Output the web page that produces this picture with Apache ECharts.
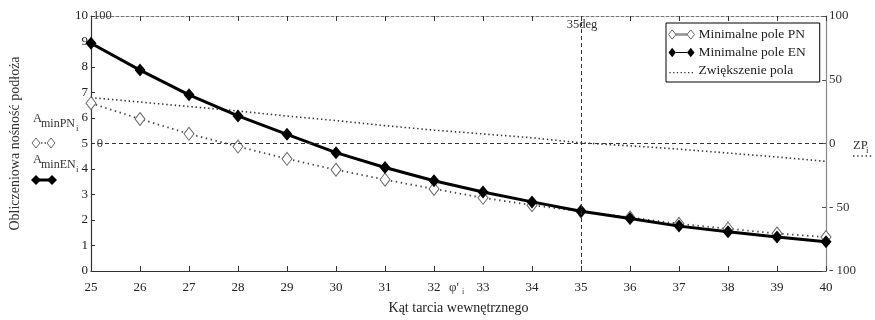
<!DOCTYPE html>
<html>
<head>
<meta charset="utf-8">
<script src="https://cdn.jsdelivr.net/npm/echarts@6/dist/echarts.min.js"></script>
<style>
  html, body { margin: 0; padding: 0; background: #fff; }
  #chart { width: 875px; height: 320px; }
</style>
</head>
<body>
<div id="chart"></div>
<script>
// Angle of internal friction (deg)
const angles = [25, 26, 27, 28, 29, 30, 31, 32, 33, 34, 35, 36, 37, 38, 39, 40];
// Minimum foundation area by PN method
const minPN = [6.58, 5.96, 5.38, 4.88, 4.40, 3.97, 3.58, 3.22, 2.87, 2.58, 2.34, 2.10, 1.85, 1.66, 1.47, 1.33];
// Minimum foundation area by EN method
const minEN = [8.93, 7.88, 6.91, 6.08, 5.36, 4.64, 4.06, 3.54, 3.10, 2.71, 2.34, 2.06, 1.76, 1.54, 1.33, 1.15];
// Increase of area (%)
const zwiekszenie = [36, 32.5, 29, 25.5, 21.5, 18, 14, 10.5, 7.5, 4.5, 0.5, -1.8, -4.4, -7.5, -10.6, -14];

const seriesNames = ['Minimalne pole PN', 'Minimalne pole EN', 'Zwiększenie pola'];

const SERIF = '"Liberation Serif", "DejaVu Serif", serif';
const INK = '#222';

const pairs = vals => angles.map((a, i) => [a, vals[i]]);

const chart = echarts.init(document.getElementById('chart'), null, { renderer: 'canvas' });

// legend icons: two diamonds joined by a line, and a dotted line
const diamondPair = 'path://M0,5 L4,0 L8,5 L4,10 Z M20,5 L24,0 L28,5 L24,10 Z M8,4.4 L20,4.4 L20,5.6 L8,5.6 Z';
let dots = 'path://M0,0 L28,0 L28,0.01 L0,0.01 Z';
for (let x = 1; x < 28; x += 4) dots += ` M${x},4.4 L${x + 1.4},4.4 L${x + 1.4},5.8 L${x},5.8 Z`;

chart.setOption({
  animation: false,
  backgroundColor: '#fff',
  grid: { left: 91, right: 49, top: 16, bottom: 49, outerBoundsMode: 'none', containLabel: false },
  legend: {
    orient: 'vertical',
    left: 666,
    top: 23,
    padding: [4, 14, 4, 2],
    itemGap: 3,
    itemWidth: 26,
    itemHeight: 10,
    borderColor: '#000',
    borderWidth: 1,
    backgroundColor: '#fff',
    textStyle: { fontFamily: SERIF, fontSize: 13.5, color: INK, lineHeight: 15, padding: [0, 0, 0, -1] },
    data: [
      { name: seriesNames[0], icon: diamondPair, itemStyle: { color: '#fff', borderColor: '#666', borderWidth: 1 } },
      { name: seriesNames[1], icon: diamondPair, itemStyle: { color: '#000' } },
      { name: seriesNames[2], icon: dots, itemStyle: { color: '#333', borderWidth: 0 } }
    ]
  },
  xAxis: [
    {
      type: 'value', min: 25, max: 40, interval: 1,
      name: 'Kąt tarcia wewnętrznego',
      nameLocation: 'middle', nameGap: 30,
      nameTextStyle: { fontFamily: SERIF, fontSize: 14, color: INK },
      axisLine: { onZero: false, lineStyle: { color: '#333', width: 1.2 } },
      axisTick: { inside: true, length: 5, lineStyle: { color: '#333' } },
      axisLabel: { fontFamily: SERIF, fontSize: 13, color: INK, margin: 10 },
      splitLine: { show: false }
    },
    {
      type: 'value', min: 25, max: 40, interval: 1, position: 'top',
      axisLine: { onZero: false, lineStyle: { color: '#777', width: 1, type: [3, 2] } },
      axisTick: { inside: true, length: 5, lineStyle: { color: '#333' } },
      axisLabel: { show: false },
      splitLine: { show: false }
    }
  ],
  yAxis: [
    {
      type: 'value', min: 0, max: 10, interval: 1,
      name: 'Obliczeniowa nośność podłoża',
      nameLocation: 'middle', nameGap: 69, nameRotate: 90,
      nameTextStyle: { fontFamily: SERIF, fontSize: 14, color: '#333' },
      axisLine: { show: true, onZero: false, lineStyle: { color: '#333', width: 1.2 } },
      axisTick: { inside: true, length: 4, lineStyle: { color: '#333' } },
      axisLabel: { fontFamily: SERIF, fontSize: 13, color: INK, margin: 3 },
      splitLine: { show: false }
    },
    {
      type: 'value', min: -100, max: 100, interval: 50, position: 'right',
      axisLine: { show: true, onZero: false, lineStyle: { color: '#888', width: 1.2 } },
      axisTick: { inside: true, length: 4, lineStyle: { color: '#555' } },
      axisLabel: {
        fontFamily: SERIF, fontSize: 13, color: '#333', margin: 3,
        formatter: v => (v < 0 ? '- ' + Math.abs(v) : String(v))
      },
      splitLine: { show: false }
    }
  ],
  series: [
    {
      name: seriesNames[2], type: 'line', xAxisIndex: 0, yAxisIndex: 1,
      data: pairs(zwiekszenie), symbol: 'none', z: 2,
      lineStyle: { color: '#333', width: 1.6, type: [1.4, 2.8] },
      itemStyle: { color: '#333' },
      markLine: {
        silent: true, symbol: 'none', label: { show: false },
        lineStyle: { color: '#333', width: 1, type: [4, 3] },
        data: [{ yAxis: 0 }, { xAxis: 35 }]
      },
      markPoint: {
        silent: true, symbol: 'rect', symbolSize: 0,
        label: { show: true, position: 'inside', fontFamily: SERIF, fontSize: 12.5, color: '#333' },
        data: [
          { coord: [25.18, 0], value: 0, label: { formatter: '0' } },
          { coord: [25.23, 100], value: 100, label: { formatter: '100' } },
          { coord: [35.02, 100], value: 35, label: { formatter: '35deg', offset: [0, 9] } }
        ]
      }
    },
    {
      name: seriesNames[0], type: 'line', xAxisIndex: 0, yAxisIndex: 0,
      data: pairs(minPN), symbol: 'diamond', symbolSize: [10, 13], showAllSymbol: true, z: 3,
      lineStyle: { color: '#444', width: 1.8, type: [1.4, 3.6] },
      itemStyle: { color: '#fff', borderColor: '#666', borderWidth: 1 }
    },
    {
      name: seriesNames[1], type: 'line', xAxisIndex: 0, yAxisIndex: 0,
      data: pairs(minEN), symbol: 'diamond', symbolSize: [11, 13], showAllSymbol: true, z: 4,
      lineStyle: { color: '#000', width: 3 },
      itemStyle: { color: '#000' }
    }
  ],
  graphic: [
    // left-hand series labels
    { type: 'text', left: 33, top: 112, style: { text: 'A', font: '12.5px ' + SERIF, fill: '#333' } },
    { type: 'text', left: 41, top: 118, style: { text: 'minPN', font: '12px ' + SERIF, fill: '#333' } },
    { type: 'text', left: 76, top: 124, style: { text: 'i', font: '9px ' + SERIF, fill: '#333' } },
    { type: 'polygon', shape: { points: [[32, 143], [36, 138], [40, 143], [36, 148]] }, style: { fill: '#fff', stroke: '#666', lineWidth: 1 } },
    { type: 'polygon', shape: { points: [[47, 143], [51, 138], [55, 143], [51, 148]] }, style: { fill: '#fff', stroke: '#666', lineWidth: 1 } },
    { type: 'line', shape: { x1: 41, y1: 143, x2: 46, y2: 143 }, style: { stroke: '#444', lineWidth: 1.5, lineDash: [1.4, 2.2] } },

    { type: 'text', left: 33, top: 153, style: { text: 'A', font: '12.5px ' + SERIF, fill: '#333' } },
    { type: 'text', left: 41, top: 159, style: { text: 'minEN', font: '12px ' + SERIF, fill: '#333' } },
    { type: 'text', left: 76, top: 165, style: { text: 'i', font: '9px ' + SERIF, fill: '#333' } },
    { type: 'line', shape: { x1: 34, y1: 180, x2: 55, y2: 180 }, style: { stroke: '#000', lineWidth: 3 } },
    { type: 'polygon', shape: { points: [[31, 180], [36, 175], [41, 180], [36, 185]] }, style: { fill: '#000' } },
    { type: 'polygon', shape: { points: [[47, 180], [52, 175], [57, 180], [52, 185]] }, style: { fill: '#000' } },

    // right-hand series label
    { type: 'text', left: 853, top: 139, style: { text: 'ZP', font: '12.5px ' + SERIF, fill: '#333' } },
    { type: 'text', left: 866, top: 146, style: { text: 'i', font: '9px ' + SERIF, fill: '#333' } },
    { type: 'line', shape: { x1: 853, y1: 156, x2: 874, y2: 156 }, style: { stroke: '#333', lineWidth: 1.5, lineDash: [1.4, 2.8] } },

    // x variable marker
    { type: 'text', left: 449, top: 281, style: { text: "\u03C6'", font: '13px ' + SERIF, fill: '#333' } },
    { type: 'text', left: 462, top: 288, style: { text: 'i', font: '8px ' + SERIF, fill: '#333' } }
  ]
});
</script>
</body>
</html>
